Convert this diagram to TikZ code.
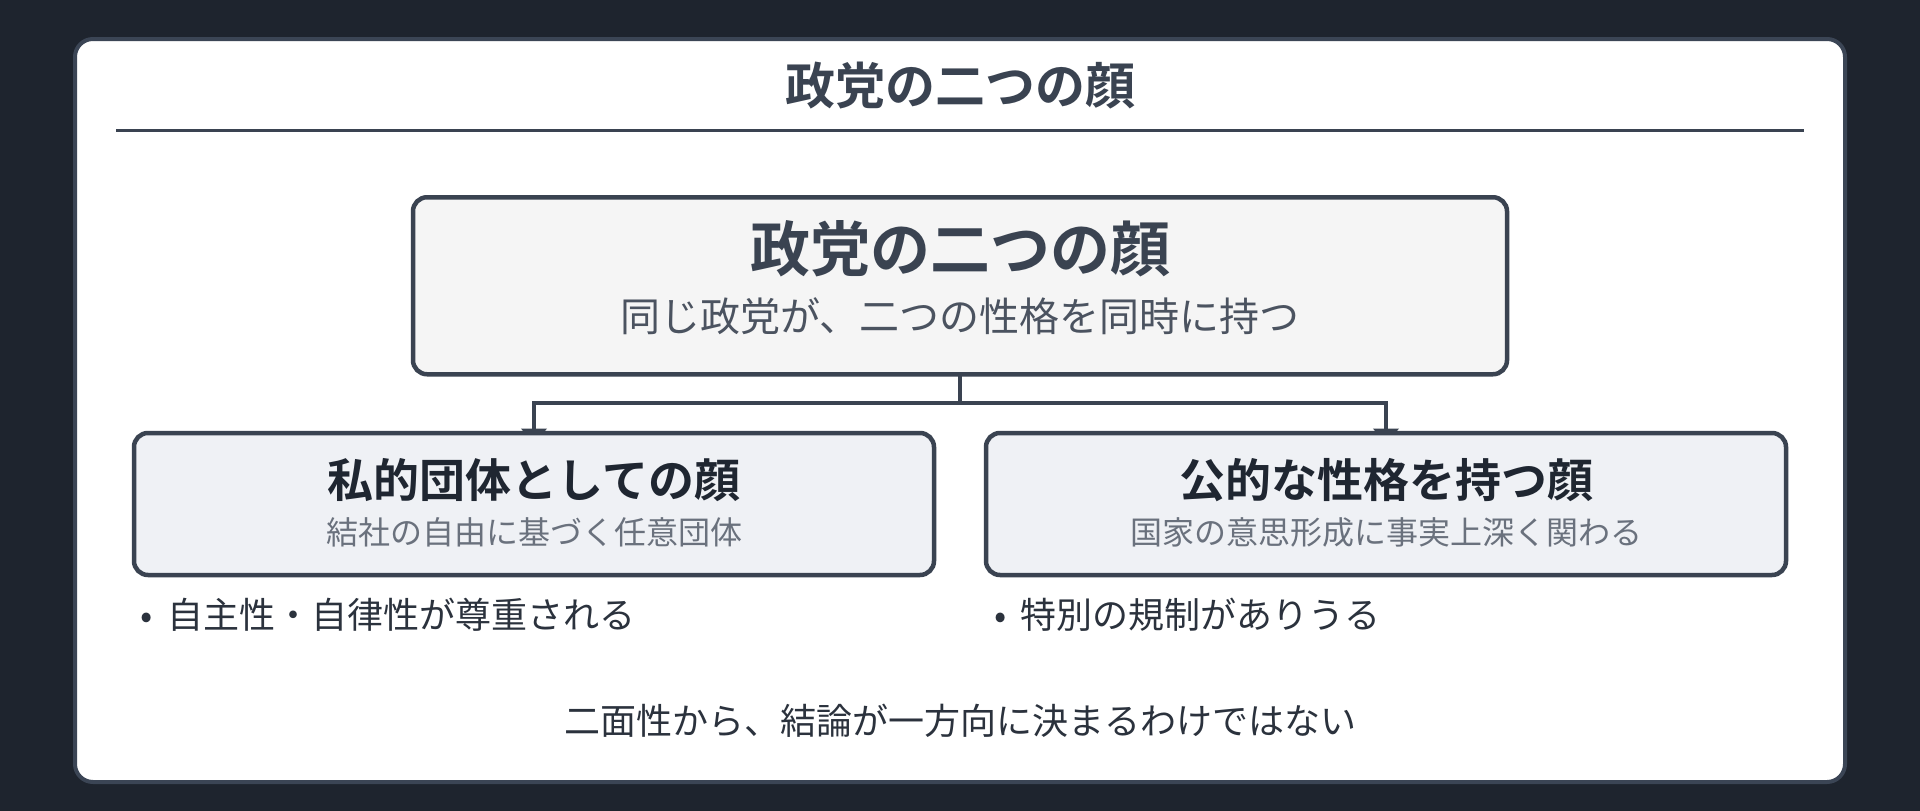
\documentclass[tikz,border=0pt]{standalone}
\usepackage{fontspec}
\setmainfont{Noto Sans CJK JP}[BoldFont={Noto Sans CJK JP Bold}]
\usetikzlibrary{arrows.meta,calc}
\pgfdeclarelayer{back}
\pgfdeclarelayer{mid}
\pgfsetlayers{back,mid,main}
\definecolor{bgdark}{HTML}{1E242E}
\definecolor{frameline}{HTML}{3B4555}
\definecolor{ink}{HTML}{3A4351}
\definecolor{darkink}{HTML}{1F2631}
\definecolor{subink}{HTML}{4B5360}
\definecolor{greyink}{HTML}{6A717D}
\definecolor{bodyink}{HTML}{2B323D}
\definecolor{mainfill}{HTML}{F5F5F5}
\definecolor{childfill}{HTML}{EFF1F5}
\tikzset{
  framebox/.style={draw=frameline, line width=4pt, fill=white, rounded corners=18pt},
  mainbox/.style={draw=ink, line width=4.5pt, fill=mainfill, rounded corners=14pt,
    minimum width=1094pt, minimum height=177pt, inner sep=0pt, outer sep=0pt},
  childbox/.style={draw=ink, line width=4.5pt, fill=childfill, rounded corners=14pt,
    minimum width=800pt, minimum height=142pt, inner sep=0pt, outer sep=0pt},
  conn/.style={draw=ink, line width=4pt},
  tip/.style={-{Triangle[width=25pt,length=16pt]}},
  txt/.style={inner sep=0pt, outer sep=0pt},
  toptitle/.style={txt, text=ink, font=\fontsize{50}{60}\selectfont\bfseries},
  maintitle/.style={txt, text=ink, font=\fontsize{60}{72}\selectfont\bfseries},
  mainsub/.style={txt, text=subink, font=\fontsize{40}{48}\selectfont},
  childtitle/.style={txt, text=darkink, font=\fontsize{46}{55}\selectfont\bfseries},
  childsub/.style={txt, text=greyink, font=\fontsize{32}{38}\selectfont},
  bullet/.style={txt, text=bodyink, font=\fontsize{36}{43}\selectfont, anchor=west},
  bottomtxt/.style={txt, text=bodyink, font=\fontsize{36}{43}\selectfont},
}
\begin{document}
\begin{tikzpicture}[x=1pt,y=-1pt]
\begin{pgfonlayer}{back}
  \fill[bgdark] (0,0) rectangle (1920,811);
  \draw[framebox] (75,39) rectangle (1845,782);
  \draw[ink, line width=3pt] (116,130) -- (1804,130);
\end{pgfonlayer}

\node[toptitle] (title) at (960,86) {政党の二つの顔};

\node[mainbox] (main) at (960,285.75) {};
\node[maintitle] (maint) at (960,249) {政党の二つの顔};
\node[mainsub] (mains) at (960,316) {同じ政党が、二つの性格を同時に持つ};

\node[childbox] (left) at (534,504) {};
\node[childtitle] (leftt) at (534,480) {私的団体としての顔};
\node[childsub] (lefts) at (534,532) {結社の自由に基づく任意団体};

\node[childbox] (right) at (1386,504) {};
\node[childtitle] (rightt) at (1386,480) {公的な性格を持つ顔};
\node[childsub] (rights) at (1386,532) {国家の意思形成に事実上深く関わる};

\node[bullet] (lb) at (140,615) {•\hspace{15pt}自主性・自律性が尊重される};
\node[bullet] (rb) at (994,615) {•\hspace{14pt}特別の規制がありうる};

\node[bottomtxt] (concl) at (960,721) {二面性から、結論が一方向に決まるわけではない};

\begin{pgfonlayer}{mid}
  \coordinate (split) at ($(main.south)+(0,29)$);
  \draw[conn] (main.south) -- (split);
  \draw[conn, tip] (split) -| ($(left.north)+(0,11.5)$);
  \draw[conn, tip] (split) -| ($(right.north)+(0,11.5)$);
\end{pgfonlayer}
\end{tikzpicture}
\end{document}
